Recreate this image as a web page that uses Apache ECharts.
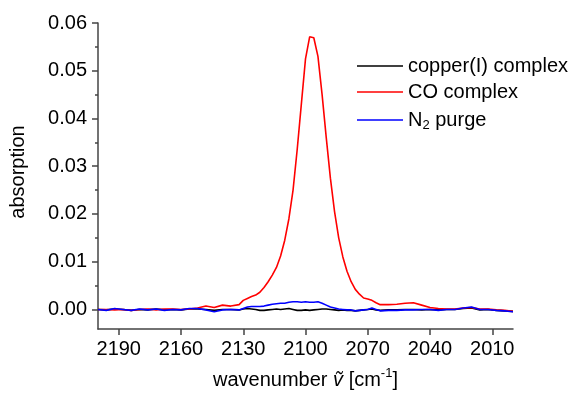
<!DOCTYPE html>
<html>
<head>
<meta charset="utf-8">
<script src="https://cdn.jsdelivr.net/npm/echarts@6/dist/echarts.min.js"></script>
<style>
  html, body { margin: 0; padding: 0; background: #fff; }
  #chart { width: 581px; height: 396px; }
</style>
</head>
<body>
<div id="chart"></div>
<script>
const wavenumbers = [
  2200, 2196, 2192, 2188, 2184, 2180, 2176, 2172, 2168, 2164, 2160, 2156, 2152, 2148, 2144, 2140, 2136, 2132,
  2130, 2128, 2126, 2124, 2122, 2120, 2118, 2116, 2114, 2112, 2110, 2108, 2106, 2104, 2102, 2100,
  2098, 2096, 2094, 2092, 2090, 2088, 2086, 2084, 2082, 2080, 2078, 2076, 2074, 2072, 2070, 2068, 2066, 2064,
  2060, 2056, 2052, 2048, 2044, 2040, 2036, 2032, 2028, 2024, 2020, 2016, 2012, 2008, 2004, 2000
];

const copperComplex = [
  0.0000, -0.0001, 0.0001, 0.0000, -0.0002, 0.0000, -0.0001, 0.0001, -0.0001, 0.0000, -0.0001, 0.0001, 0.0001, 0.0000, -0.0002, 0.0000, 0.0000, -0.0001,
  0.0001, 0.0002, 0.0001, 0.0000, -0.0002, -0.0002, -0.0001, 0.0000, 0.0001, 0.0000, 0.0001, 0.0002, 0.0000, -0.0002, -0.0002, -0.0001,
  -0.0002, -0.0001, 0.0000, 0.0001, 0.0001, 0.0000, -0.0001, -0.0002, -0.0001, -0.0002, -0.0002, -0.0003, -0.0002, -0.0001, 0.0000, 0.0001, -0.0001, -0.0002,
  -0.0001, -0.0001, 0.0000, 0.0000, -0.0001, 0.0000, -0.0001, 0.0000, 0.0000, 0.0002, 0.0003, -0.0001, 0.0000, -0.0002, -0.0003, -0.0004
];

const coComplex = [
  0.0000, 0.0000, -0.0001, 0.0000, -0.0002, 0.0000, 0.0001, -0.0001, 0.0001, 0.0001, 0.0000, 0.0001, 0.0003, 0.0007, 0.0004, 0.0009, 0.0007, 0.0010,
  0.0019, 0.0023, 0.0027, 0.0030, 0.0036, 0.0046, 0.0058, 0.0072, 0.0088, 0.0112, 0.0145, 0.0190, 0.0250, 0.0335, 0.0430, 0.0525,
  0.0571, 0.0569, 0.0530, 0.0450, 0.0360, 0.0275, 0.0205, 0.0150, 0.0110, 0.0080, 0.0058, 0.0042, 0.0032, 0.0024, 0.0022, 0.0019, 0.0014, 0.0010,
  0.0010, 0.0011, 0.0013, 0.0014, 0.0009, 0.0004, 0.0002, 0.0001, 0.0001, 0.0003, 0.0004, 0.0001, 0.0001, -0.0001, -0.0002, -0.0004
];

const n2Purge = [
  0.0000, -0.0002, 0.0002, 0.0000, -0.0002, 0.0001, -0.0001, 0.0001, -0.0002, 0.0000, -0.0001, 0.0002, 0.0002, -0.0001, -0.0005, -0.0001, 0.0000, -0.0001,
  0.0002, 0.0005, 0.0006, 0.0006, 0.0006, 0.0007, 0.0009, 0.0011, 0.0012, 0.0013, 0.0013, 0.0015, 0.0016, 0.0016, 0.0015, 0.0016,
  0.0015, 0.0015, 0.0016, 0.0013, 0.0009, 0.0005, 0.0003, 0.0001, 0.0000, -0.0001, -0.0001, -0.0003, -0.0002, -0.0001, 0.0000, 0.0003, 0.0000, -0.0003,
  -0.0002, -0.0002, -0.0001, -0.0001, 0.0000, 0.0000, -0.0002, 0.0000, 0.0000, 0.0003, 0.0005, 0.0000, 0.0000, -0.0002, -0.0003, -0.0005
];

const xTicks = [2190, 2160, 2130, 2100, 2070, 2040, 2010];
const yTicks = [0, 0.01, 0.02, 0.03, 0.04, 0.05, 0.06];
const yMinorTicks = [0.005, 0.015, 0.025, 0.035, 0.045, 0.055];

const chart = echarts.init(document.getElementById('chart'));
const font = 'Liberation Sans, Arial, sans-serif';
const axisColor = '#444';
const pairs = vals => wavenumbers.map((w, i) => [w, vals[i]]);

const lineSeries = (name, vals, color) => ({
  name,
  type: 'line',
  data: pairs(vals),
  symbol: 'none',
  lineStyle: { color, width: 1.6 },
  itemStyle: { color }
});

const yBase = {
  type: 'value',
  min: -0.0041,
  max: 0.06,
  splitLine: { show: false },
  axisLine: { show: true, lineStyle: { color: axisColor, width: 1.5 } }
};

chart.setOption({
  animation: false,
  textStyle: { fontFamily: font },
  grid: { left: 98, right: 68, top: 23, bottom: 67, outerBoundsMode: 'none' },
  legend: {
    orient: 'vertical',
    left: 357,
    top: 56,
    padding: 0,
    itemWidth: 46,
    itemHeight: 1.6,
    itemGap: 6,
    icon: 'rect',
    itemStyle: { borderWidth: 0 },
    textStyle: {
      fontFamily: font, fontSize: 20, color: '#000', lineHeight: 20,
      rich: {
        a: { fontFamily: font, fontSize: 20, color: '#000', lineHeight: 20 },
        sub: { fontFamily: font, fontSize: 13, color: '#000', lineHeight: 24, verticalAlign: 'bottom' }
      }
    },
    formatter: name => (name === 'N2 purge' ? '{a|N}{sub|2}{a| purge}' : name),
    data: ['copper(I) complex', 'CO complex', 'N2 purge']
  },
  xAxis: {
    type: 'value',
    inverse: true,
    min: 2000,
    max: 2200,
    name: 'wavenumber {i|ṽ} [cm{sup|-1}]',
    nameLocation: 'middle',
    nameGap: 38,
    nameTextStyle: {
      fontFamily: font, fontSize: 20, color: '#000', lineHeight: 20,
      rich: {
        i: { fontFamily: font, fontSize: 20, fontStyle: 'italic', color: '#000', lineHeight: 20 },
        sup: { fontFamily: font, fontSize: 13, color: '#000', lineHeight: 26, verticalAlign: 'top' }
      }
    },
    splitLine: { show: false },
    axisLine: { show: true, onZero: false, lineStyle: { color: axisColor, width: 1.5 } },
    axisTick: { show: true, length: 6, customValues: xTicks, lineStyle: { color: axisColor, width: 1.5 } },
    axisLabel: {
      customValues: xTicks, fontSize: 20, color: '#000', margin: 10, fontFamily: font,
      formatter: v => String(v)
    }
  },
  yAxis: [
    Object.assign({}, yBase, {
      name: 'absorption',
      nameLocation: 'middle',
      nameGap: 70,
      nameTextStyle: { fontFamily: font, fontSize: 20, color: '#000', padding: [0, 0, 0, 8] },
      axisTick: { show: true, length: 6, customValues: yTicks, lineStyle: { color: axisColor, width: 1.5 } },
      axisLabel: {
        customValues: yTicks, fontSize: 20, color: '#000', margin: 11, fontFamily: font,
        formatter: v => v.toFixed(2)
      }
    }),
    Object.assign({}, yBase, {
      position: 'left',
      axisLine: { show: false },
      axisTick: { show: true, length: 3, customValues: yMinorTicks, lineStyle: { color: axisColor, width: 1.5 } },
      axisLabel: { show: false }
    })
  ],
  series: [
    lineSeries('copper(I) complex', copperComplex, '#000000'),
    lineSeries('CO complex', coComplex, '#ff0000'),
    lineSeries('N2 purge', n2Purge, '#0000ff')
  ]
});
</script>
</body>
</html>
